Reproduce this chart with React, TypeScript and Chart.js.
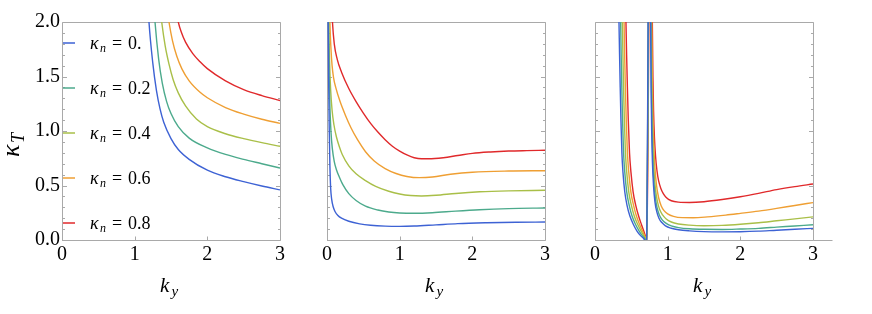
import React, { useEffect, useRef } from "react";
import { Chart, registerables } from "chart.js";
Chart.register(...registerables);

type Pt = [number, number | null];

const kappaN = ["0.", "0.2", "0.4", "0.6", "0.8"];
const seriesColors = ["#3d62d4", "#4caa8c", "#a9bf48", "#ef9f33", "#e0292b"];
const xTickLabels = ["0", "1", "2", "3"];
const yTickLabels = ["0.0", "0.5", "1.0", "1.5", "2.0"];

// Panel 1
const p1Blue: Pt[] = [[1.16,2.45],[1.197,2.0],[1.25,1.62],[1.3,1.37],[1.35,1.2],[1.4,1.08],[1.5,0.93],[1.6,0.83],[1.75,0.74],[2.0,0.64],[2.25,0.58],[2.5,0.535],[2.75,0.495],[3.0,0.46]];
const p1Teal: Pt[] = [[1.25,2.3],[1.28,2.0],[1.33,1.66],[1.38,1.44],[1.44,1.27],[1.5,1.16],[1.6,1.04],[1.75,0.935],[2.0,0.845],[2.25,0.785],[2.5,0.74],[2.75,0.70],[3.0,0.66]];
const p1Olive: Pt[] = [[1.33,2.25],[1.372,2.0],[1.42,1.78],[1.47,1.62],[1.53,1.47],[1.6,1.35],[1.7,1.23],[1.85,1.11],[2.0,1.04],[2.25,0.975],[2.5,0.93],[2.75,0.893],[3.0,0.86]];
const p1Orange: Pt[] = [[1.43,2.2],[1.472,2.0],[1.52,1.83],[1.58,1.685],[1.65,1.57],[1.75,1.46],[1.9,1.355],[2.0,1.305],[2.25,1.215],[2.5,1.155],[2.75,1.108],[3.0,1.07]];
const p1Red: Pt[] = [[1.57,2.1],[1.6,2.0],[1.64,1.91],[1.7,1.815],[1.8,1.71],[1.9,1.635],[2.0,1.572],[2.25,1.46],[2.5,1.38],[2.75,1.325],[3.0,1.28]];

// Panel 2
const p2Blue: Pt[] = [[0.012,2.4],[0.016,2.0],[0.022,1.5],[0.03,1.05],[0.04,0.68],[0.05,0.48],[0.065,0.37],[0.085,0.305],[0.11,0.262],[0.15,0.225],[0.2,0.2],[0.3,0.172],[0.45,0.148],[0.6,0.135],[0.8,0.127],[1.0,0.125],[1.2,0.128],[1.5,0.139],[1.8,0.15],[2.2,0.158],[2.6,0.163],[3.0,0.165]];
const p2Teal: Pt[] = [[0.016,2.4],[0.02,2.0],[0.03,1.5],[0.04,1.22],[0.055,0.99],[0.073,0.84],[0.1,0.72],[0.13,0.645],[0.165,0.585],[0.22,0.505],[0.3,0.425],[0.4,0.362],[0.53,0.31],[0.7,0.275],[0.85,0.257],[1.0,0.248],[1.2,0.245],[1.45,0.25],[1.77,0.265],[2.1,0.278],[2.5,0.288],[3.0,0.294]];
const p2Olive: Pt[] = [[0.02,2.4],[0.025,2.0],[0.035,1.65],[0.05,1.38],[0.07,1.19],[0.096,1.055],[0.13,0.945],[0.17,0.855],[0.21,0.785],[0.3,0.68],[0.4,0.607],[0.53,0.545],[0.67,0.492],[0.85,0.447],[1.0,0.422],[1.15,0.408],[1.3,0.404],[1.5,0.41],[1.77,0.427],[2.1,0.442],[2.5,0.451],[3.0,0.456]];
const p2Orange: Pt[] = [[0.032,2.3],[0.04,2.0],[0.055,1.75],[0.07,1.6],[0.09,1.49],[0.12,1.4],[0.18,1.27],[0.25,1.15],[0.33,1.03],[0.42,0.92],[0.53,0.81],[0.65,0.725],[0.8,0.655],[0.95,0.61],[1.1,0.583],[1.27,0.572],[1.45,0.578],[1.7,0.603],[2.0,0.622],[2.5,0.633],[3.0,0.636]];
const p2Red: Pt[] = [[0.062,2.2],[0.075,2.0],[0.1,1.8],[0.14,1.66],[0.2,1.54],[0.3,1.39],[0.4,1.27],[0.5,1.165],[0.6,1.07],[0.7,0.99],[0.8,0.92],[0.9,0.86],[1.0,0.815],[1.1,0.78],[1.2,0.755],[1.3,0.745],[1.4,0.745],[1.6,0.755],[1.8,0.775],[2.0,0.795],[2.25,0.808],[2.5,0.816],[2.75,0.82],[3.0,0.823]];

// Panel 3 (null = break at the pole)
const p3Blue: Pt[] = [[0.318,2.4],[0.33,2.0],[0.338,1.7],[0.347,1.4],[0.357,1.1],[0.37,0.8],[0.385,0.62],[0.41,0.44],[0.44,0.32],[0.48,0.22],[0.53,0.14],[0.58,0.08],[0.63,0.038],[0.67,0.014],[0.711,-0.03],[0.717,0.4],[0.722,0.9],[0.727,1.5],[0.732,2.2],[0.748,null],[0.76,2.6],[0.765,2.0],[0.772,1.4],[0.78,1.0],[0.79,0.72],[0.805,0.5],[0.825,0.35],[0.85,0.26],[0.88,0.2],[0.92,0.16],[0.97,0.13],[1.05,0.108],[1.15,0.094],[1.3,0.084],[1.5,0.077],[1.75,0.075],[2.0,0.076],[2.25,0.081],[2.5,0.09],[2.75,0.098],[3.0,0.107]];
const p3Teal: Pt[] = [[0.342,2.4],[0.353,2.0],[0.36,1.7],[0.369,1.4],[0.379,1.1],[0.393,0.8],[0.41,0.62],[0.437,0.44],[0.47,0.32],[0.51,0.22],[0.56,0.14],[0.61,0.08],[0.65,0.04],[0.685,0.013],[0.711,-0.03],[0.718,0.4],[0.723,0.9],[0.729,1.5],[0.734,2.2],[0.75,null],[0.764,2.6],[0.769,2.0],[0.776,1.4],[0.784,1.02],[0.795,0.75],[0.81,0.54],[0.83,0.39],[0.855,0.295],[0.885,0.23],[0.925,0.185],[0.975,0.155],[1.05,0.13],[1.15,0.114],[1.3,0.103],[1.5,0.098],[1.75,0.097],[2.0,0.101],[2.25,0.107],[2.5,0.118],[2.75,0.129],[3.0,0.14]];
const p3Olive: Pt[] = [[0.365,2.4],[0.376,2.0],[0.384,1.7],[0.393,1.4],[0.404,1.1],[0.419,0.8],[0.437,0.62],[0.465,0.44],[0.5,0.32],[0.54,0.22],[0.59,0.14],[0.635,0.08],[0.67,0.04],[0.695,0.012],[0.711,-0.03],[0.719,0.4],[0.725,0.9],[0.731,1.5],[0.737,2.2],[0.752,null],[0.768,2.6],[0.774,2.0],[0.781,1.45],[0.79,1.07],[0.8,0.82],[0.815,0.6],[0.835,0.45],[0.86,0.35],[0.89,0.28],[0.93,0.23],[0.98,0.193],[1.05,0.165],[1.15,0.147],[1.3,0.136],[1.5,0.131],[1.75,0.134],[2.0,0.144],[2.25,0.158],[2.5,0.176],[2.75,0.194],[3.0,0.212]];
const p3Orange: Pt[] = [[0.388,2.4],[0.4,2.0],[0.408,1.7],[0.418,1.4],[0.43,1.1],[0.446,0.8],[0.465,0.62],[0.494,0.44],[0.53,0.32],[0.57,0.22],[0.615,0.14],[0.655,0.08],[0.685,0.038],[0.702,0.01],[0.711,-0.03],[0.72,0.4],[0.726,0.9],[0.733,1.5],[0.739,2.2],[0.756,null],[0.775,2.6],[0.781,2.0],[0.789,1.45],[0.798,1.1],[0.81,0.85],[0.826,0.65],[0.847,0.5],[0.875,0.39],[0.91,0.315],[0.95,0.27],[1.0,0.24],[1.08,0.217],[1.2,0.205],[1.35,0.204],[1.55,0.212],[1.8,0.228],[2.0,0.244],[2.25,0.265],[2.5,0.29],[2.75,0.317],[3.0,0.343]];
const p3Red: Pt[] = [[0.414,2.4],[0.426,2.0],[0.435,1.7],[0.446,1.4],[0.458,1.1],[0.475,0.8],[0.495,0.62],[0.525,0.44],[0.56,0.32],[0.6,0.22],[0.64,0.14],[0.672,0.08],[0.695,0.036],[0.706,0.01],[0.711,-0.03],[0.722,0.4],[0.729,0.9],[0.736,1.5],[0.742,2.2],[0.762,null],[0.782,2.6],[0.789,2.0],[0.797,1.5],[0.806,1.18],[0.818,0.94],[0.833,0.77],[0.852,0.64],[0.875,0.545],[0.905,0.475],[0.94,0.425],[0.98,0.39],[1.05,0.36],[1.15,0.347],[1.3,0.344],[1.5,0.351],[1.75,0.371],[2.0,0.397],[2.25,0.428],[2.5,0.462],[2.75,0.49],[3.0,0.514]];

const SERIF = "'Liberation Serif'";
const FRAME = "#a9a9a9";

type PanelCfg = {
  series: Pt[][];
  canvasLeft: number;
  canvasWidth: number;
  yAxisWidth: number;
  padRight: number;
  yLabels: boolean;
  legend: boolean;
  bottomExtend: number;
};

const panels: PanelCfg[] = [
  { series: [p1Blue, p1Teal, p1Olive, p1Orange, p1Red], canvasLeft: 0, canvasWidth: 300, yAxisWidth: 62, padRight: 20, yLabels: true, legend: true, bottomExtend: 0 },
  { series: [p2Blue, p2Teal, p2Olive, p2Orange, p2Red], canvasLeft: 300, canvasWidth: 270, yAxisWidth: 27, padRight: 25, yLabels: false, legend: false, bottomExtend: 0 },
  { series: [p3Blue, p3Teal, p3Olive, p3Orange, p3Red], canvasLeft: 570, canvasWidth: 302, yAxisWidth: 25, padRight: 59, yLabels: false, legend: false, bottomExtend: 19 },
];

const LEGEND_Y0 = 43;
const LEGEND_DY = 45;

function makeDecorPlugin(cfg: PanelCfg) {
  return {
    id: "decor",
    beforeDatasetsDraw(chart: any) {
      const { ctx, chartArea: a, scales } = chart;
      const xs = scales.x, ys = scales.y;
      ctx.save();
      ctx.strokeStyle = FRAME;
      ctx.lineWidth = 1;
      const L = a.left + 0.5, R = a.right + 0.5, T = a.top + 0.5, B = a.bottom + 0.5;
      ctx.beginPath();
      ctx.moveTo(L, T); ctx.lineTo(R, T); ctx.lineTo(R, B); ctx.lineTo(L - 0.5, B);
      ctx.moveTo(L, T); ctx.lineTo(L, B);
      if (cfg.bottomExtend) { ctx.moveTo(R, B); ctx.lineTo(R + cfg.bottomExtend, B); }
      ctx.stroke();
      ctx.beginPath();
      for (let i = 0; i <= 20; i++) {
        const y = Math.round(ys.getPixelForValue(i / 10)) + 0.5;
        const len = i % 5 === 0 ? 4.5 : 2.5;
        ctx.moveTo(L, y); ctx.lineTo(L + len, y);
        ctx.moveTo(R, y); ctx.lineTo(R - len, y);
      }
      for (let v = 1; v <= 2; v++) {
        const x = Math.round(xs.getPixelForValue(v)) + 0.5;
        ctx.moveTo(x, B); ctx.lineTo(x, B - 4);
      }
      ctx.stroke();
      ctx.restore();
    },
    afterDraw(chart: any) {
      if (!cfg.legend) return;
      const { ctx, chartArea: a } = chart;
      ctx.save();
      chart.data.datasets.forEach((ds: any, i: number) => {
        const y = LEGEND_Y0 + LEGEND_DY * i;
        ctx.strokeStyle = ds.borderColor;
        ctx.lineWidth = 1.5;
        ctx.beginPath();
        ctx.moveTo(a.left + 1, y);
        ctx.lineTo(a.left + 13, y);
        ctx.stroke();
      });
      ctx.restore();
    },
  };
}

function Panel({ cfg }: { cfg: PanelCfg }) {
  const ref = useRef<HTMLCanvasElement>(null);
  useEffect(() => {
    if (!ref.current) return;
    let chart: Chart | null = null;
    let cancelled = false;
    const build = () => {
      if (cancelled || !ref.current) return;
      if (chart) chart.destroy();
      chart = new Chart(ref.current, {
        type: "line",
        data: {
          datasets: cfg.series.map((s, i) => ({
            label: kappaN[i],
            data: s.map(([x, y]) => ({ x, y })),
            borderColor: seriesColors[i],
            backgroundColor: seriesColors[i],
            borderWidth: 1.4,
            pointRadius: 0,
            cubicInterpolationMode: "monotone" as const,
            spanGaps: false,
            clip: 0,
          })),
        },
        options: {
          animation: false,
          responsive: false,
          devicePixelRatio: 1,
          events: [],
          font: { family: SERIF },
          layout: { padding: { left: 0, right: cfg.padRight, top: 22, bottom: 0 } },
          plugins: { legend: { display: false }, tooltip: { enabled: false } },
          scales: {
            x: {
              type: "linear",
              min: 0,
              max: 3,
              grid: { display: false, drawTicks: false },
              border: { display: false },
              ticks: {
                stepSize: 1,
                padding: 3,
                color: "#000",
                font: { family: SERIF, size: 20 },
                maxRotation: 0,
                callback: (_v: any, i: number) => xTickLabels[i],
              },
              afterFit: (s: any) => { s.height = 74; },
            },
            y: {
              type: "linear",
              min: 0,
              max: 2,
              grid: { display: false, drawTicks: false },
              border: { display: false },
              ticks: {
                display: cfg.yLabels,
                stepSize: 0.5,
                padding: 2,
                color: "#000",
                font: { family: SERIF, size: 20 },
                callback: (_v: any, i: number) => yTickLabels[i],
              },
              afterFit: (s: any) => { s.width = cfg.yAxisWidth; },
            },
          },
        } as any,
        plugins: [makeDecorPlugin(cfg)],
      });
    };
    build();
    const fonts = (document as any).fonts;
    if (fonts && fonts.ready) fonts.ready.then(() => build());
    return () => {
      cancelled = true;
      if (chart) chart.destroy();
    };
  }, [cfg]);
  return (
    <canvas
      ref={ref}
      width={cfg.canvasWidth}
      height={314}
      style={{ position: "absolute", left: cfg.canvasLeft, top: 0, width: cfg.canvasWidth, height: 314 }}
    />
  );
}

// Text placed by its baseline (Liberation Serif metrics)
function Txt({ x, base, size, italic, children }: { x: number; base: number; size: number; italic?: boolean; children: React.ReactNode }) {
  return (
    <span
      style={{
        position: "absolute",
        left: x,
        top: base - 0.8375 * size,
        fontFamily: SERIF,
        fontSize: size,
        lineHeight: `${size}px`,
        fontStyle: italic ? "italic" : "normal",
        whiteSpace: "nowrap",
        color: "#000",
      }}
    >
      {children}
    </span>
  );
}

export default function App() {
  useEffect(() => {
    document.body.style.margin = "0";
    document.body.style.background = "#fff";
  }, []);
  return (
    <div style={{ position: "relative", width: 872, height: 314, background: "#fff", overflow: "hidden" }}>
      {panels.map((p, i) => (
        <Panel key={i} cfg={p} />
      ))}
      {panels.map((p, i) => {
        const cx = p.canvasLeft + (p.yAxisWidth + p.canvasWidth - p.padRight) / 2;
        return (
          <React.Fragment key={"t" + i}>
            <Txt x={cx - 11} base={293} size={21} italic>k</Txt>
            <Txt x={cx + 0.5} base={297} size={15} italic>y</Txt>
          </React.Fragment>
        );
      })}
      <div style={{ position: "absolute", left: 20, top: 157, width: 0, height: 0, transform: "rotate(-90deg)", transformOrigin: "0 0" }}>
        <Txt x={0} base={0} size={26} italic>{"\u03BA"}</Txt>
        <Txt x={14} base={4} size={18} italic>T</Txt>
      </div>
      {kappaN.map((k, i) => {
        const y = LEGEND_Y0 + LEGEND_DY * i;
        return (
          <React.Fragment key={"l" + i}>
            <Txt x={90} base={y + 6} size={18} italic>{"\u03BA"}</Txt>
            <Txt x={100} base={y + 9} size={12} italic>n</Txt>
            <Txt x={112} base={y + 6} size={18}>=</Txt>
            <Txt x={128} base={y + 6} size={18}>{k}</Txt>
          </React.Fragment>
        );
      })}
    </div>
  );
}
